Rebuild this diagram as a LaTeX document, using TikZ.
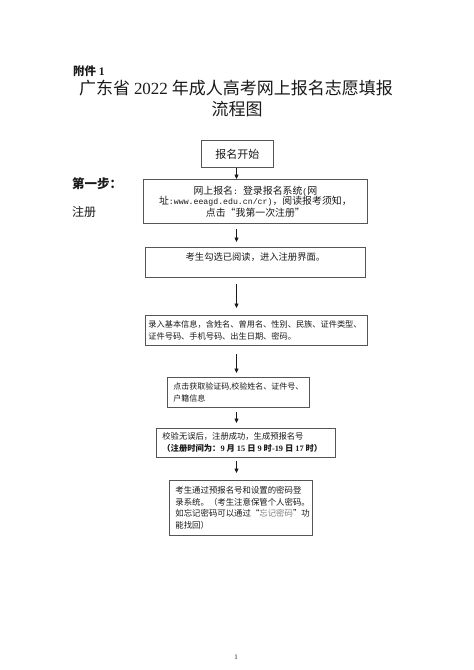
\documentclass[tikz,border=0pt]{standalone}
\usepackage{fontspec}
\setmainfont{Noto Sans CJK SC}
\newfontfamily\numfont{Liberation Serif}
\newfontfamily\monofont{Liberation Mono}[Scale=0.83]
\usetikzlibrary{arrows.meta}
\definecolor{boxline}{HTML}{555555}
\definecolor{ink}{HTML}{1A1A1A}
\newcommand{\gapsp}{\hspace{2pt}}
\tikzset{
  box/.style={draw=boxline, line width=0.8pt, anchor=north west, text=ink, inner ysep=0pt},
  arr/.style={-{Triangle[length=4.5pt,width=4pt]}, line width=0.7pt, draw=ink},
  lbl/.style={inner sep=0pt, text=ink},
}
\begin{document}
\begin{tikzpicture}[x=1pt,y=-1pt]
\useasboundingbox (0,0) rectangle (474,670);
\fill[white] (0,0) rectangle (474,670);

% heading texts
\node[lbl, anchor=west] (att) at (73,71) {\fontsize{11.5pt}{12pt}\selectfont\bfseries 附件 {\numfont 1}};
\node[lbl] (title) at (236,88) {\fontsize{17pt}{18pt}\selectfont 广东省 {\numfont 2022} 年成人高考网上报名志愿填报};
\node[lbl] (title2) at (237,109) {\fontsize{17pt}{18pt}\selectfont 流程图};
\node[lbl, anchor=west] (step) at (72,184) {\fontsize{12.5pt}{13pt}\selectfont\bfseries 第一步：};
\node[lbl, anchor=west] (reg) at (72,212) {\fontsize{12pt}{13pt}\selectfont 注册};

% boxes
\node[box, minimum width=72pt, minimum height=27pt, inner xsep=0pt] (b1) at (201,140)
  {\fontsize{11pt}{12pt}\selectfont 报名开始};

\node[box, minimum width=224pt, minimum height=44pt, inner xsep=4pt, text width=216pt, align=center] (b2) at (143,179)
  {\fontsize{9.9pt}{10.2pt}\selectfont \mbox{网上报名{\monofont: }登录报名系统{\monofont(}网}\\
   \mbox{址{\monofont :www.eeagd.edu.cn/cr)}，阅读报考须知，}\\
   \mbox{点击“我第一次注册”}};

\node[box, minimum width=220pt, minimum height=30pt, inner xsep=0pt, text height=7pt, text depth=10pt] (b3) at (145,247)
  {\fontsize{9.3pt}{10pt}\selectfont 考生勾选已阅读，进入注册界面。};

\node[box, minimum width=222pt, minimum height=30pt, inner xsep=3pt, text width=216pt, align=left] (b4) at (145,315)
  {\fontsize{8.2pt}{12pt}\selectfont \mbox{录入基本信息，含姓名、曾用名、性别、民族、证件类型、}\\
   \mbox{证件号码、手机号码、出生日期、密码。}};

\node[box, minimum width=142pt, minimum height=30pt, inner xsep=6pt, text width=130pt, align=left] (b5) at (167,377)
  {\fontsize{8pt}{13pt}\selectfont \mbox{点击获取验证码{\numfont ,}校验姓名、证件号、}\\
   \mbox{户籍信息}};

\node[box, minimum width=179pt, minimum height=29pt, inner xsep=6pt, text width=167pt, align=left] (b6) at (156,428)
  {\fontsize{8.3pt}{11pt}\selectfont \mbox{校验无误后，注册成功，生成预报名号}\\
   \mbox{\bfseries （注册时间为：{\numfont 9}\gapsp 月\gapsp{\numfont 15}\gapsp 日\gapsp{\numfont 9}\gapsp 时{\numfont -19}\gapsp 日\gapsp{\numfont 17}\gapsp 时）}};

\node[box, minimum width=143pt, minimum height=55pt, inner xsep=6pt, text width=131pt, align=left] (b7) at (169,480)
  {\fontsize{8.4pt}{11.5pt}\selectfont \mbox{考生通过预报名号和设置的密码登}\\
   \mbox{录系统。（考生注意保管个人密码。}\\
   \mbox{如忘记密码可以通过“\textcolor{gray}{忘记密码}”功}\\
   \mbox{能找回）}};

% connectors
\coordinate (ax) at (236.5,0);
\draw[arr] (b1.south -| ax) -- (b2.north -| ax);
\draw[arr, shorten <=5pt, shorten >=5pt] (b2.south -| ax) -- (b3.north -| ax);
\draw[arr, shorten <=6pt, shorten >=7pt] (b3.south -| ax) -- (b4.north -| ax);
\draw[arr, shorten <=8pt, shorten >=4pt] (b4.south -| ax) -- (b5.north -| ax);
\draw[arr, shorten <=4pt, shorten >=5pt] (b5.south -| ax) -- (b6.north -| ax);
\draw[arr, shorten <=3pt, shorten >=7pt] (b6.south -| ax) -- (b7.north -| ax);

% page number
\node[lbl] (pg) at (236,657) {\fontsize{7pt}{8pt}\selectfont\numfont 1};
\end{tikzpicture}
\end{document}
